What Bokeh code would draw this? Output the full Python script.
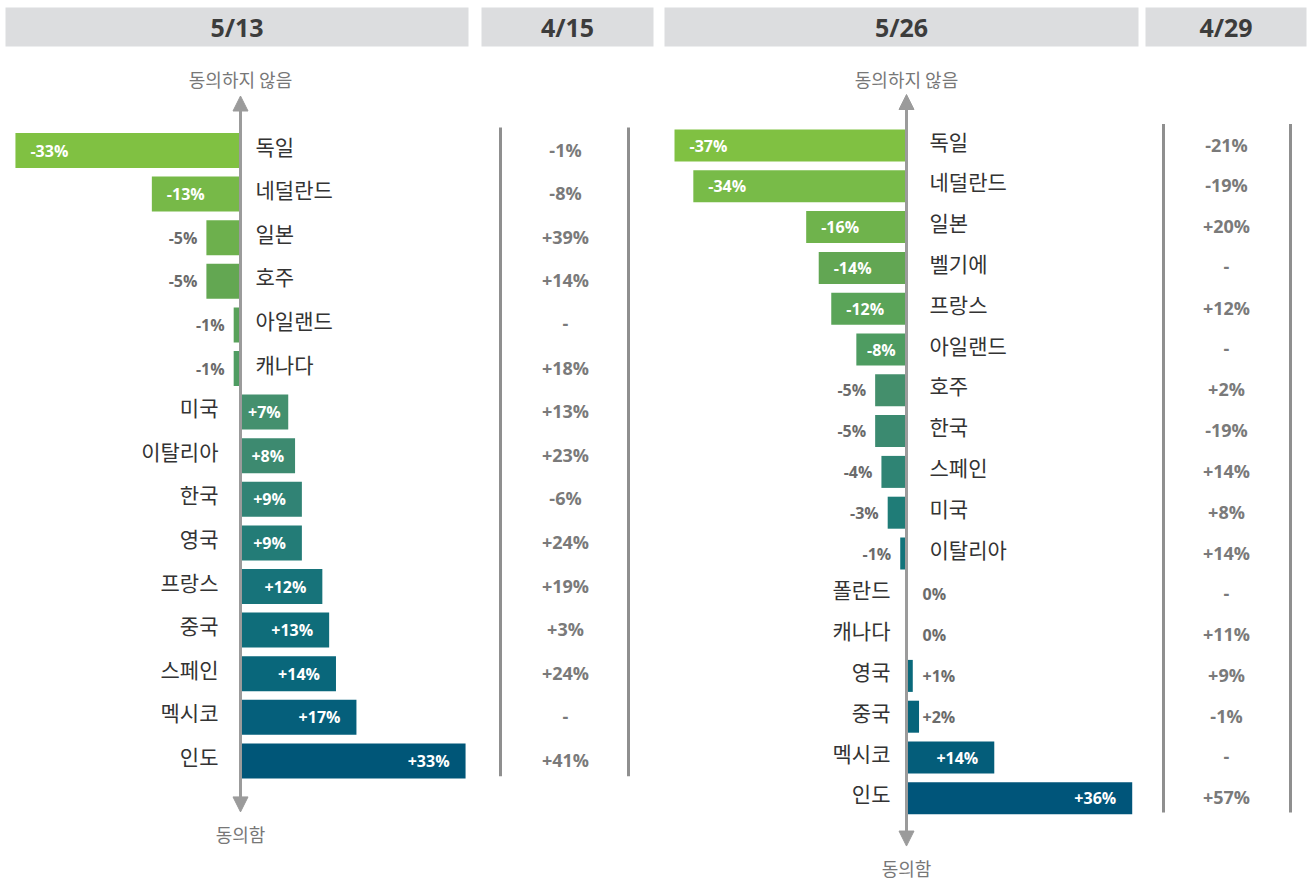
from bokeh.plotting import figure
from bokeh.models import Range1d, Arrow, NormalHead
from bokeh.core.properties import value
from bokeh.embed import file_html
from bokeh.resources import INLINE

# ---------------- data ----------------
left_title = "5/13"
left_prev_title = "4/15"
left_countries = ["독일", "네덜란드", "일본", "호주", "아일랜드", "캐나다", "미국", "이탈리아",
                  "한국", "영국", "프랑스", "중국", "스페인", "멕시코", "인도"]
left_values = [-33, -13, -5, -5, -1, -1, 7, 8, 9, 9, 12, 13, 14, 17, 33]
left_prev = ["-1%", "-8%", "+39%", "+14%", "-", "+18%", "+13%", "+23%", "-6%", "+24%",
             "+19%", "+3%", "+24%", "-", "+41%"]
left_colors = ["#80c142", "#77b948", "#6db04d", "#63a752", "#58a15a", "#4f9c62", "#44906e",
               "#3d8a70", "#318375", "#237c77", "#17737a", "#0f6d7a", "#09677b", "#055f7b", "#005678"]

right_title = "5/26"
right_prev_title = "4/29"
right_countries = ["독일", "네덜란드", "일본", "벨기에", "프랑스", "아일랜드", "호주", "한국", "스페인",
                   "미국", "이탈리아", "폴란드", "캐나다", "영국", "중국", "멕시코", "인도"]
right_values = [-37, -34, -16, -14, -12, -8, -5, -5, -4, -3, -1, 0, 0, 1, 2, 14, 36]
right_prev = ["-21%", "-19%", "+20%", "-", "+12%", "-", "+2%", "-19%", "+14%", "+8%", "+14%",
              "-", "+11%", "+9%", "-1%", "-", "+57%"]
right_colors = ["#80c142", "#78bb48", "#6fb34c", "#62a653", "#5aa458", "#4e9c61", "#448f6c",
                "#3b8a70", "#2f8474", "#1f7c77", "#12737a", "#0e6e7a", "#0c6c7a", "#0a697b",
                "#06647a", "#045d7a", "#00557a"]

top_label = "동의하지 않음"
bottom_label = "동의함"

# ---------------- layout ----------------
W, H = 1311, 879
X0, Y0 = 0, 0
KR = value("Noto Sans CJK KR")
OS = value("Open Sans")

p = figure(width=W, height=H, x_range=Range1d(X0, X0 + W), y_range=Range1d(Y0 + H, Y0),
           output_backend="svg", toolbar_location=None, x_axis_type=None, y_axis_type=None,
           min_border=0, outline_line_color=None, background_fill_color="white")
p.xgrid.visible = False
p.ygrid.visible = False

panels = [
    dict(name="L", title=left_title, prev_title=left_prev_title, countries=left_countries,
         values=left_values, prev=left_prev, colors=left_colors,
         axis_x=240, ppp=6.82, row0=150, step=43.6, bar_h=35,
         head=(5, 468), head2=(481, 653), col_x=565, col_lines=(500, 628),
         lab_r=15, lab_l=22, bottom_y=833),
    dict(name="R", title=right_title, prev_title=right_prev_title, countries=right_countries,
         values=right_values, prev=right_prev, colors=right_colors,
         axis_x=906, ppp=6.27, row0=145, step=40.8, bar_h=32,
         head=(664, 1138), head2=(1145, 1306), col_x=1226, col_lines=(1163, 1290),
         lab_r=23, lab_l=16, bottom_y=867),
]

AX_COL = "#9b9b9b"

for c in panels:
    nm = c["name"]
    vals = c["values"]
    n = len(vals)
    rows = list(range(n))
    p.extra_x_ranges[nm] = Range1d((X0 - c["axis_x"]) / c["ppp"], (X0 + W - c["axis_x"]) / c["ppp"])
    p.extra_y_ranges[nm] = Range1d((Y0 + H - c["row0"]) / c["step"], (Y0 - c["row0"]) / c["step"])

    # header boxes
    for (l, r), t in ((c["head"], c["title"]), (c["head2"], c["prev_title"])):
        p.quad(left=[l], right=[r], top=[7], bottom=[46], fill_color="#dcdddf", line_color=None)
        p.text(x=[(l + r) / 2], y=[26], text=[t], text_font=OS, text_font_style="bold",
               text_font_size="25px", text_color="#3c3c3c", text_align="center",
               text_baseline="middle")

    # bars
    p.hbar(y=rows, left=[min(v, 0) for v in vals], right=[max(v, 0) for v in vals],
           height=c["bar_h"] / c["step"], fill_color=c["colors"], line_color=None,
           x_range_name=nm, y_range_name=nm)

    # axis arrow
    head_kw = dict(size=15, fill_color=AX_COL, line_color=AX_COL)
    p.add_layout(Arrow(start=NormalHead(**head_kw), end=NormalHead(**head_kw),
                       x_start=0, y_start=-1.25, x_end=0, y_end=n - 1 + 1.17,
                       line_color=AX_COL, line_width=3, x_range_name=nm, y_range_name=nm))
    p.text(x=[0], y=[-1.63], text=[top_label], text_font=KR, text_font_size="18px",
           text_color="#777777", text_align="center", text_baseline="middle",
           x_range_name=nm, y_range_name=nm)
    p.text(x=[0], y=[c["bottom_y"]], text=[bottom_label], text_font=KR,
           text_font_size="18px", text_color="#777777", text_align="center",
           text_baseline="middle", x_range_name=nm)

    # country labels
    neg = [i for i in rows if vals[i] < 0]
    pos = [i for i in rows if vals[i] >= 0]
    p.text(x=[0] * len(neg), y=neg, text=[c["countries"][i] for i in neg], x_offset=c["lab_r"],
           y_offset=-5, text_font=KR, text_font_size="21px", text_color="#333333",
           text_align="left", text_baseline="middle", x_range_name=nm, y_range_name=nm)
    p.text(x=[0] * len(pos), y=pos, text=[c["countries"][i] for i in pos], x_offset=-c["lab_l"],
           y_offset=-5, text_font=KR, text_font_size="21px", text_color="#333333",
           text_align="right", text_baseline="middle", x_range_name=nm, y_range_name=nm)

    # value labels
    groups = {}
    for i, v in enumerate(vals):
        lab = "0%" if v == 0 else f"{v:+d}%"
        wpx = abs(v) * c["ppp"]
        if wpx >= 40:
            col = "white"
            if wpx < 60:
                key, x, off = ("center", col), v / 2, 0
            elif v < 0:
                key, x, off = ("left", col), v, 15
            else:
                key, x, off = ("right", col), v, -16
        else:
            col = "#6b6b6b"
            if v < 0:
                key, x, off = ("right", col), v, -9
            else:
                key, x, off = ("left", col), 0, 16
        g = groups.setdefault(key, dict(x=[], y=[], t=[], o=[]))
        g["x"].append(x); g["y"].append(i); g["t"].append(lab); g["o"].append(off)
    for (align, col), g in groups.items():
        p.text(x=g["x"], y=g["y"], text=g["t"], x_offset=g["o"], text_font=OS,
               text_font_style="bold", text_font_size="16px", text_color=col,
               text_align=align, text_baseline="middle", x_range_name=nm, y_range_name=nm)

    # previous column
    for lx in c["col_lines"]:
        p.segment(x0=[lx], y0=[-0.53], x1=[lx], y1=[n - 1 + 0.35], line_color="#8f8f8f",
                  line_width=3, y_range_name=nm)
    p.text(x=[c["col_x"]] * n, y=rows, text=c["prev"], text_font=OS, text_font_style="bold",
           text_font_size="18px", text_color="#7a7a7a", text_align="center",
           text_baseline="middle", y_offset=-1, y_range_name=nm)

open("out.html", "w").write(file_html(p, INLINE))
